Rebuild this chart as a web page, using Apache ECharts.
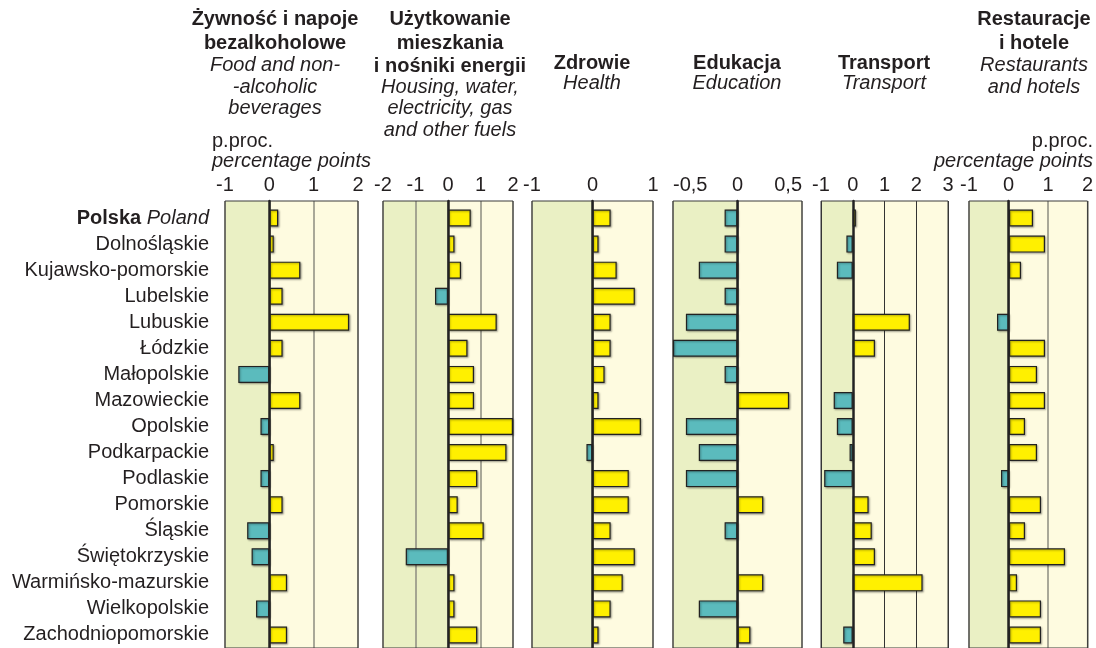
<!DOCTYPE html>
<html>
<head>
<meta charset="utf-8">
<script src="https://cdn.jsdelivr.net/npm/echarts@6/dist/echarts.min.js"></script>
<style>
html,body{margin:0;padding:0;background:#fff;}
#chart{width:1096px;height:648px;}
</style>
</head>
<body>
<div id="chart"></div>
<script>
// regions, top to bottom
var regions = ['Polska', 'Dolnośląskie', 'Kujawsko-pomorskie', 'Lubelskie', 'Lubuskie', 'Łódzkie',
    'Małopolskie', 'Mazowieckie', 'Opolskie', 'Podkarpackie', 'Podlaskie', 'Pomorskie', 'Śląskie',
    'Świętokrzyskie', 'Warmińsko-mazurskie', 'Wielkopolskie', 'Zachodniopomorskie'];

// change in share, percentage points
var food        = [0.2, 0.1, 0.7, 0.3, 1.8, 0.3, -0.7, 0.7, -0.2, 0.1, -0.2, 0.3, -0.5, -0.4, 0.4, -0.3, 0.4];
var housing     = [0.7, 0.2, 0.4, -0.4, 1.5, 0.6, 0.8, 0.8, 2.0, 1.8, 0.9, 0.3, 1.1, -1.3, 0.2, 0.2, 0.9];
var health      = [0.3, 0.1, 0.4, 0.7, 0.3, 0.3, 0.2, 0.1, 0.8, -0.1, 0.6, 0.6, 0.3, 0.7, 0.5, 0.3, 0.1];
var education   = [-0.1, -0.1, -0.3, -0.1, -0.4, -0.5, -0.1, 0.4, -0.4, -0.3, -0.4, 0.2, -0.1, 0, 0.2, -0.3, 0.1];
var transport   = [0.1, -0.2, -0.5, 0, 1.8, 0.7, 0, -0.6, -0.5, -0.1, -0.9, 0.5, 0.6, 0.7, 2.2, 0, -0.3];
var restaurants = [0.6, 0.9, 0.3, 0, -0.3, 0.9, 0.7, 0.9, 0.4, 0.7, -0.2, 0.8, 0.4, 1.4, 0.2, 0.8, 0.8];

// axis ticks of each panel
var axisMin  = [-1, -2, -1, -0.5, -1, -1];
var axisMax  = [2, 2, 1, 0.5, 3, 2];
var axisStep = [1, 1, 1, 0.5, 1, 1];

// headers
var titlesPl = ['Żywność i napoje\nbezalkoholowe', 'Użytkowanie\nmieszkania\ni nośniki energii',
    'Zdrowie', 'Edukacja', 'Transport', 'Restauracje\ni hotele'];
var titlesEn = ['Food and non-\n-alcoholic\nbeverages', 'Housing, water,\nelectricity, gas\nand other fuels',
    'Health', 'Education', 'Transport', 'Restaurants\nand hotels'];

var seriesData = [food, housing, health, education, transport, restaurants];

// layout
var panelLeft  = [225, 383, 532, 673, 821, 969];
var panelWidth = [133, 130, 121, 129, 127, 120];
var titleX     = [275, 450, 592, 737, 884, 1034];
var plTop      = [8, 8, 52, 52, 52, 8];
var enTop      = [54.75, 76.25, 73, 73, 73, 54.75];

var FONT = '"Liberation Sans", Arial, Helvetica, sans-serif';
var TXT = '#231f20';
var GREEN = '#eaf0c4';
var CREAM = '#fefbe0';
var YELLOW = '#fff000';
var TEAL = '#5bbbbd';

function areaColors(i){
    var c = [];
    for (var v = axisMin[i]; v < axisMax[i] - 1e-9; v += axisStep[i]) {
        c.push(v < 0 ? GREEN : CREAM);
    }
    return c;
}

var grid = [], xAxis = [], yAxis = [], series = [], title = [];

for (var i = 0; i < 6; i++) {
    // background panel
    grid.push({left: panelLeft[i], width: panelWidth[i], top: 201, height: 470,
        show: true, z: 1, backgroundColor: 'transparent', borderColor: '#3a3a3a', borderWidth: 1});
    xAxis.push({
        type: 'value', gridIndex: i, position: 'top', min: axisMin[i], max: axisMax[i], interval: axisStep[i],
        axisLine: {show: false}, axisTick: {show: false},
        axisLabel: {show: true, margin: 6, fontSize: 20, fontFamily: FONT, color: TXT,
            alignMinLabel: i === 3 ? 'left' : 'center',
            alignMaxLabel: i === 3 ? 'right' : 'center',
            formatter: function(v){ return String(v).replace('.', ','); }},
        splitLine: {show: true, lineStyle: {color: i === 4 ? '#333' : '#8c8c80', width: i === 4 ? 1 : 1.5}},
        splitArea: {show: true, areaStyle: {color: areaColors(i)}}
    });
    yAxis.push({
        type: 'value', gridIndex: i, min: 0, max: 1, z: 5,
        axisLine: {show: true, onZero: true, lineStyle: {color: '#222', width: 2.5}},
        axisTick: {show: false}, axisLabel: {show: false}, splitLine: {show: false}
    });
}

for (var i = 0; i < 6; i++) {
    // bar panel
    grid.push({left: panelLeft[i], width: panelWidth[i], top: 205, height: 445.4});
    xAxis.push({
        type: 'value', gridIndex: 6 + i, min: axisMin[i], max: axisMax[i], interval: axisStep[i], show: false
    });
    yAxis.push({
        type: 'category', gridIndex: 6 + i, data: regions, inverse: true,
        axisLine: {show: false}, axisTick: {show: false}, splitLine: {show: false},
        axisLabel: {
            show: i === 0, interval: 0, margin: 16, fontSize: 20, fontFamily: FONT, color: TXT,
            formatter: function(v, idx){ return idx === 0 ? '{b|Polska} {it|Poland}' : v; },
            rich: {
                b: {fontWeight: 'bold', fontSize: 20, fontFamily: FONT, color: TXT},
                it: {fontStyle: 'italic', fontSize: 20, fontFamily: FONT, color: TXT}
            }
        }
    });
    series.push({
        type: 'bar', xAxisIndex: 6 + i, yAxisIndex: 6 + i, barWidth: 17,
        // no change -> no bar
        data: seriesData[i].map(function(v){ return v === 0 ? '-' : v; }),
        itemStyle: {
            color: function(p){ return p.value < 0 ? TEAL : YELLOW; },
            borderColor: '#222', borderWidth: 1.2,
            shadowColor: 'rgba(0,0,0,0.35)', shadowBlur: 2, shadowOffsetX: 1, shadowOffsetY: 1
        }
    });

    title.push({
        text: titlesPl[i], left: titleX[i], top: plTop[i], textAlign: 'center', padding: 0,
        textStyle: {fontSize: 20, fontWeight: 'bold', fontFamily: FONT, color: TXT, lineHeight: 23.5}
    });
    title.push({
        text: titlesEn[i], left: titleX[i], top: enTop[i], textAlign: 'center', padding: 0,
        textStyle: {fontSize: 20, fontWeight: 'normal', fontStyle: 'italic', fontFamily: FONT, color: TXT, lineHeight: 21.5}
    });
}

// unit captions
title.push({
    text: 'p.proc.', subtext: 'percentage points', left: 212, top: 132, textAlign: 'left', padding: 0, itemGap: 0,
    textStyle: {fontSize: 20, fontWeight: 'normal', fontFamily: FONT, color: TXT, lineHeight: 18},
    subtextStyle: {fontSize: 20, fontStyle: 'italic', fontFamily: FONT, color: TXT, lineHeight: 18}
});
title.push({
    text: 'p.proc.', subtext: 'percentage points', left: 1093, top: 132, textAlign: 'right', padding: 0, itemGap: 0,
    textStyle: {fontSize: 20, fontWeight: 'normal', fontFamily: FONT, color: TXT, lineHeight: 18},
    subtextStyle: {fontSize: 20, fontStyle: 'italic', fontFamily: FONT, color: TXT, lineHeight: 18}
});

var option = {
    animation: false,
    backgroundColor: '#fff',
    title: title,
    grid: grid,
    xAxis: xAxis,
    yAxis: yAxis,
    series: series
};

var myChart = echarts.init(document.getElementById('chart'));
myChart.setOption(option);
</script>
</body>
</html>
